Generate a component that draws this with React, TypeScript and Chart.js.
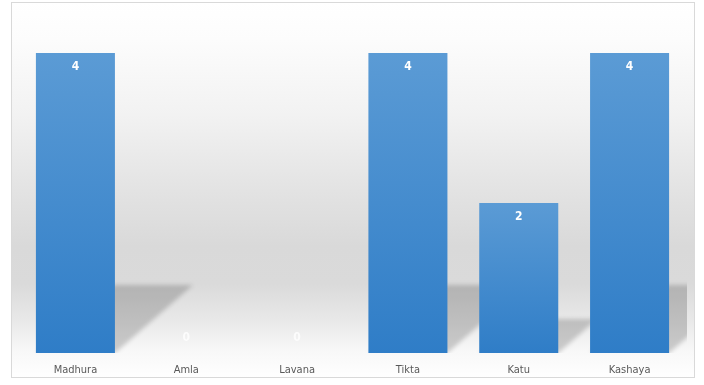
import React, { useEffect, useRef } from "react";
import { Chart, registerables } from "chart.js";

Chart.register(...registerables);

const categories = ["Madhura", "Amla", "Lavana", "Tikta", "Katu", "Kashaya"];
const values = [4, 0, 0, 4, 2, 4];
const yMin = 0;
const yMax = 4;

const FONT = "'Liberation Sans Narrow', 'DejaVu Sans Condensed', 'Open Sans', sans-serif";

const backgroundPlugin = {
  id: "bgFrame",
  beforeDraw(chart: any) {
    const { ctx, width, height } = chart;
    ctx.save();
    ctx.fillStyle = "#ffffff";
    ctx.fillRect(0, 0, width, height);
    const x0 = 11, y0 = 2, x1 = 695, y1 = 378;
    const g = ctx.createLinearGradient(0, y0, 0, y1);
    g.addColorStop(0, "#ffffff");
    g.addColorStop(0.1, "#fcfcfc");
    g.addColorStop(0.3, "#f2f2f2");
    g.addColorStop(0.5, "#e3e3e3");
    g.addColorStop(0.65, "#d9d9d9");
    g.addColorStop(0.75, "#dadada");
    g.addColorStop(0.85, "#e9e9e9");
    g.addColorStop(0.93, "#f8f8f8");
    g.addColorStop(1, "#ffffff");
    ctx.fillStyle = g;
    ctx.fillRect(x0, y0, x1 - x0, y1 - y0);
    ctx.strokeStyle = "#d9d9d9";
    ctx.lineWidth = 1;
    ctx.strokeRect(x0 + 0.5, y0 + 0.5, x1 - x0 - 1, y1 - y0 - 1);
    ctx.restore();
  },
};

const shadowPlugin = {
  id: "barShadows",
  beforeDatasetsDraw(chart: any) {
    const { ctx, chartArea } = chart;
    const meta = chart.getDatasetMeta(0);
    ctx.save();
    ctx.beginPath();
    ctx.rect(chartArea.left, 0, chartArea.right + 2 - chartArea.left, chartArea.bottom);
    ctx.clip();
    ctx.filter = "blur(2px)";
    meta.data.forEach((el: any) => {
      const h = el.base - el.y;
      if (h <= 0) return;
      const half = el.width / 2;
      const left = el.x - half;
      const right = el.x + half;
      const dx = h * 0.26;
      const dy = h * 0.227;
      ctx.fillStyle = "rgba(0,0,0,0.18)";
      ctx.beginPath();
      ctx.moveTo(left, el.base);
      ctx.lineTo(right, el.base);
      ctx.lineTo(right + dx, el.base - dy);
      ctx.lineTo(left + dx, el.base - dy);
      ctx.closePath();
      ctx.fill();
    });
    ctx.restore();
  },
};

const labelPlugin = {
  id: "barLabels",
  afterDatasetsDraw(chart: any) {
    const { ctx } = chart;
    const meta = chart.getDatasetMeta(0);
    const data = chart.data.datasets[0].data;
    ctx.save();
    ctx.font = `bold 12px ${FONT}`;
    ctx.textAlign = "center";
    ctx.textBaseline = "middle";
    meta.data.forEach((el: any, i: number) => {
      const v = data[i];
      ctx.fillStyle = v > 0 ? "#ffffff" : "rgba(255,255,255,0.8)";
      const y = v > 0 ? el.y + 14 : el.base - 15;
      ctx.fillText(String(v), el.x, y);
    });
    ctx.restore();
  },
};

export default function App() {
  const ref = useRef<HTMLCanvasElement | null>(null);
  useEffect(() => {
    if (!ref.current) return;
    const chart = new Chart(ref.current, {
      type: "bar",
      data: {
        labels: categories,
        datasets: [
          {
            data: values,
            backgroundColor: (c: any) => {
              const chart = c.chart;
              const ys = chart.scales && chart.scales.y;
              if (!ys || c.raw === undefined) return "#4a8fd0";
              const top = ys.getPixelForValue(c.raw);
              const bottom = ys.getPixelForValue(0);
              if (!isFinite(top) || bottom - top < 1) return "#4a8fd0";
              const g = chart.ctx.createLinearGradient(0, top, 0, bottom);
              g.addColorStop(0, "#5b9bd5");
              g.addColorStop(1, "#2f7dc7");
              return g;
            },
            borderWidth: 0,
            categoryPercentage: 1,
            barPercentage: 0.713,
          },
        ],
      },
      options: {
        responsive: false,
        animation: false,
        layout: { padding: { left: 20, right: 19, top: 53, bottom: 0 } },
        plugins: { legend: { display: false }, tooltip: { enabled: false }, title: { display: false } },
        scales: {
          x: {
            grid: { display: false },
            border: { display: false },
            ticks: { color: "#595959", font: { family: FONT, size: 11 }, padding: 3 },
            afterFit: (s: any) => {
              s.height = 32;
            },
          },
          y: { display: false, min: yMin, max: yMax },
        },
      },
      plugins: [backgroundPlugin, shadowPlugin, labelPlugin],
    });
    return () => chart.destroy();
  }, []);
  return (
    <div style={{ position: "fixed", left: 0, top: 0, width: 704, height: 385 }}>
      <canvas ref={ref} width={704} height={385} style={{ display: "block" }} />
    </div>
  );
}
